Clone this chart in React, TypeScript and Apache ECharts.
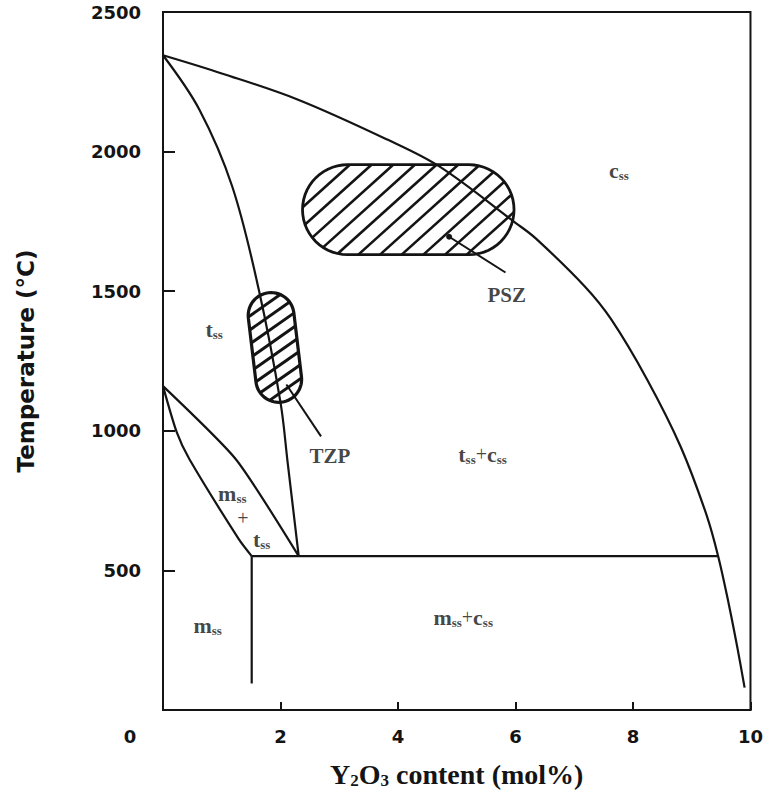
import React, { useEffect, useRef } from 'react';
import * as echarts from 'echarts';

// ---- axes ----
const xMin = 0;
const xMax = 10;
const xInterval = 2;
const yMin = 0;
const yMax = 2500;
const yInterval = 500;

// ---- phase boundaries (Y2O3 mol%, temperature °C) ----
const cubicBoundaryX = [0, 1.0, 2.3, 3.82, 4.71, 6.0, 6.34, 7.18, 7.63, 8.24, 8.81, 9.25, 9.45, 9.63, 9.78, 9.9];
const cubicBoundaryT = [2345, 2280, 2186, 2043, 1946, 1745, 1690, 1517, 1399, 1184, 944, 700, 551, 380, 220, 80];

const tetragonalBoundaryX = [0, 0.62, 1.18, 1.63, 2.0, 2.12, 2.31];
const tetragonalBoundaryT = [2345, 2150, 1874, 1506, 1102, 890, 551];

const monoLowerX = [0, 0.235, 0.45, 1.29, 1.51];
const monoLowerT = [1160, 994, 898, 612, 551];

const monoUpperX = [0, 1.24, 2.31];
const monoUpperT = [1160, 898, 551];

const eutectoidX = [1.51, 9.45];
const eutectoidT = [551, 551];

const monoVerticalX = [1.51, 1.51];
const monoVerticalT = [551, 95];

// ---- hatched regions: [x1, T1, x2, T2, radius(°C)] ----
const pszRegion = [3.14, 1792, 5.21, 1792, 161];
const tzpRegion = [1.84, 1413, 1.97, 1184, 82];

// ---- leader lines ----
const tzpLeaderX = [2.1, 2.69];
const tzpLeaderT = [1166, 980];
const pszLeaderX = [4.87, 5.83];
const pszLeaderT = [1695, 1567];

// ---- region labels ----
const labelTexts = ['t_ss', 'c_ss', 't_ss+c_ss', 'm_ss+c_ss', 'm_ss', 'm_ss', '+', 't_ss', 'TZP', 'PSZ'];
const labelX = [0.87, 7.76, 5.44, 5.11, 0.76, 1.18, 1.36, 1.68, 2.84, 5.85];
const labelT = [1363, 1932, 916, 333, 304, 775, 688, 612, 909, 1488];

const pts = (xs: number[], ts: number[]) => xs.map((x, i) => [x, ts[i]]);

const INK = '#141414';

function toRich(s: string): string {
  if (s === 'TZP' || s === 'PSZ') return '{big|' + s + '}';
  if (s === '+') return '{p|+}';
  return s
    .split('+')
    .map((part) => {
      const [main, sub] = part.split('_');
      return '{m|' + main + '}' + (sub ? '{s|' + sub + '}' : '');
    })
    .join('{p|+}');
}

function capsuleRenderer(angleDeg: number, spacing: number, hatchWidth: number, outlineWidth: number) {
  return (params: any, api: any) => {
    const a = api.coord([api.value(0), api.value(1)]);
    const b = api.coord([api.value(2), api.value(3)]);
    const r = Math.abs(api.size([0, api.value(4)])[1]);
    const dx = b[0] - a[0];
    const dy = b[1] - a[1];
    const len = Math.hypot(dx, dy) || 1;
    const ux = dx / len;
    const uy = dy / len;
    const nx = -uy;
    const ny = ux;
    const poly: number[][] = [];
    const N = 28;
    for (let i = 0; i <= N; i++) {
      const ang = Math.PI / 2 - (Math.PI * i) / N;
      const c = Math.cos(ang);
      const s = Math.sin(ang);
      poly.push([b[0] + r * (c * ux + s * nx), b[1] + r * (c * uy + s * ny)]);
    }
    for (let i = 0; i <= N; i++) {
      const ang = -Math.PI / 2 - (Math.PI * i) / N;
      const c = Math.cos(ang);
      const s = Math.sin(ang);
      poly.push([a[0] + r * (c * ux + s * nx), a[1] + r * (c * uy + s * ny)]);
    }
    const th = (angleDeg * Math.PI) / 180;
    const hx = Math.cos(th);
    const hy = -Math.sin(th);
    const mx = Math.sin(th);
    const my = Math.cos(th);
    let pmin = Infinity;
    let pmax = -Infinity;
    poly.forEach((p) => {
      const v = p[0] * mx + p[1] * my;
      pmin = Math.min(pmin, v);
      pmax = Math.max(pmax, v);
    });
    const lines: any[] = [];
    const start = pmin + ((pmax - pmin) % spacing) / 2 + spacing / 2;
    for (let s = start; s < pmax; s += spacing) {
      const ts: number[] = [];
      for (let i = 0; i < poly.length; i++) {
        const P = poly[i];
        const Q = poly[(i + 1) % poly.length];
        const fP = P[0] * mx + P[1] * my - s;
        const fQ = Q[0] * mx + Q[1] * my - s;
        if ((fP <= 0 && fQ > 0) || (fP > 0 && fQ <= 0)) {
          const k = fP / (fP - fQ);
          const ix = P[0] + (Q[0] - P[0]) * k;
          const iy = P[1] + (Q[1] - P[1]) * k;
          ts.push(ix * hx + iy * hy);
        }
      }
      if (ts.length >= 2) {
        const t1 = Math.min(...ts);
        const t2 = Math.max(...ts);
        lines.push({
          type: 'line',
          shape: {
            x1: s * mx + t1 * hx,
            y1: s * my + t1 * hy,
            x2: s * mx + t2 * hx,
            y2: s * my + t2 * hy,
          },
          style: { stroke: INK, lineWidth: hatchWidth },
        });
      }
    }
    return {
      type: 'group',
      children: [
        { type: 'polygon', shape: { points: poly }, style: { fill: '#fff', stroke: 'none' } },
        ...lines,
        { type: 'polygon', shape: { points: poly }, style: { fill: 'none', stroke: INK, lineWidth: outlineWidth } },
      ],
    };
  };
}

function lineSeries(name: string, data: any[], smooth: boolean | number = false, width = 2.2) {
  return {
    name,
    type: 'line',
    data,
    showSymbol: false,
    smooth,
    lineStyle: { color: INK, width },
    itemStyle: { color: INK },
    silent: true,
  };
}

export default function App() {
  const ref = useRef<HTMLDivElement>(null);
  useEffect(() => {
    if (!ref.current) return;
    const chart = echarts.init(ref.current, null, { renderer: 'svg' });
    const sans = 'DejaVu Sans';
    const serif = 'Liberation Serif';
    chart.setOption({
      animation: false,
      backgroundColor: '#fff',
      grid: {
        left: 163,
        right: 7,
        top: 12,
        bottom: 83,
        show: true,
        borderColor: INK,
        borderWidth: 2,
      },
      xAxis: {
        type: 'value',
        min: xMin,
        max: xMax,
        interval: xInterval,
        name: '{a|Y}{b|2}{a|O}{b|3}{a| content (mol%)}',
        nameLocation: 'middle',
        nameGap: 50,
        nameTextStyle: {
          rich: {
            a: { fontFamily: serif, fontWeight: 'bold', fontSize: 28, color: INK },
            b: { fontFamily: serif, fontWeight: 'bold', fontSize: 17, color: INK, padding: [12, 0, 0, 0] },
          },
        },
        axisLine: { show: true, lineStyle: { color: INK, width: 2 } },
        axisTick: { show: true, inside: true, length: 8, lineStyle: { color: INK, width: 2 } },
        splitLine: { show: false },
        axisLabel: {
          margin: 17,
          color: INK,
          fontFamily: sans,
          fontWeight: 'bold',
          fontSize: 18,
          showMaxLabel: true,
          formatter: (v: number) => (v === 0 ? '{z|0}' : String(v)),
          rich: {
            z: { padding: [0, 66, 0, 0], fontFamily: sans, fontWeight: 'bold', fontSize: 18, color: INK },
          },
        },
      },
      yAxis: {
        type: 'value',
        min: yMin,
        max: yMax,
        interval: yInterval,
        name: 'Temperature (°C)',
        nameLocation: 'middle',
        nameGap: 126,
        nameTextStyle: { fontFamily: sans, fontWeight: 'bold', fontSize: 23, color: INK },
        axisLine: { show: true, lineStyle: { color: INK, width: 2 } },
        axisTick: { show: true, inside: true, length: 12, lineStyle: { color: INK, width: 2 } },
        splitLine: { show: false },
        axisLabel: {
          margin: 22,
          color: INK,
          fontFamily: sans,
          fontWeight: 'bold',
          fontSize: 18,
          formatter: (v: number) => (v === 0 ? '' : String(v)),
        },
      },
      series: [
        {
          name: 'PSZ',
          type: 'custom',
          coordinateSystem: 'cartesian2d',
          renderItem: capsuleRenderer(42, 14.5, 2.6, 2.8),
          data: [pszRegion],
          silent: true,
          z: 1,
        },
        lineSeries('c boundary', pts(cubicBoundaryX, cubicBoundaryT), 0.35),
        lineSeries('t boundary', pts(tetragonalBoundaryX, tetragonalBoundaryT), 0.35),
        lineSeries('m lower', pts(monoLowerX, monoLowerT), 0.25),
        lineSeries('m upper', pts(monoUpperX, monoUpperT), 0.2),
        lineSeries('eutectoid', pts(eutectoidX, eutectoidT)),
        lineSeries('m vertical', pts(monoVerticalX, monoVerticalT)),
        {
          name: 'TZP',
          type: 'custom',
          coordinateSystem: 'cartesian2d',
          renderItem: capsuleRenderer(35, 11.5, 3, 3.2),
          data: [tzpRegion],
          silent: true,
          z: 3,
        },
        { ...lineSeries('TZP leader', pts(tzpLeaderX, tzpLeaderT), false, 2), z: 4 },
        {
          ...lineSeries('PSZ leader', [], false, 2),
          showSymbol: true,
          data: [
            { value: [pszLeaderX[0], pszLeaderT[0]], symbol: 'circle', symbolSize: 6 },
            { value: [pszLeaderX[1], pszLeaderT[1]], symbol: 'none' },
          ],
          z: 4,
        },
        {
          name: 'labels',
          type: 'scatter',
          symbolSize: 0,
          silent: true,
          z: 5,
          itemStyle: { color: INK },
          data: labelTexts.map((t, i) => ({ value: [labelX[i], labelT[i]], name: t })),
          label: {
            show: true,
            position: 'inside',
            color: INK,
            textBorderWidth: 0,
            textBorderColor: 'transparent',
            formatter: (p: any) => toRich(p.name),
            rich: {
              m: { fontFamily: serif, fontWeight: 'bold', fontSize: 22, color: INK, textBorderWidth: 0 },
              s: { fontFamily: serif, fontWeight: 'bold', fontSize: 13, color: INK, padding: [10, 0, 0, 0], textBorderWidth: 0 },
              p: { fontFamily: serif, fontSize: 20, color: INK, textBorderWidth: 0 },
              big: { fontFamily: serif, fontWeight: 'bold', fontSize: 21, color: INK, textBorderWidth: 0 },
            },
          },
        },
      ],
    });
    return () => chart.dispose();
  }, []);
  return <div ref={ref} style={{ position: 'fixed', left: 0, top: 0, width: 766, height: 794 }} />;
}
